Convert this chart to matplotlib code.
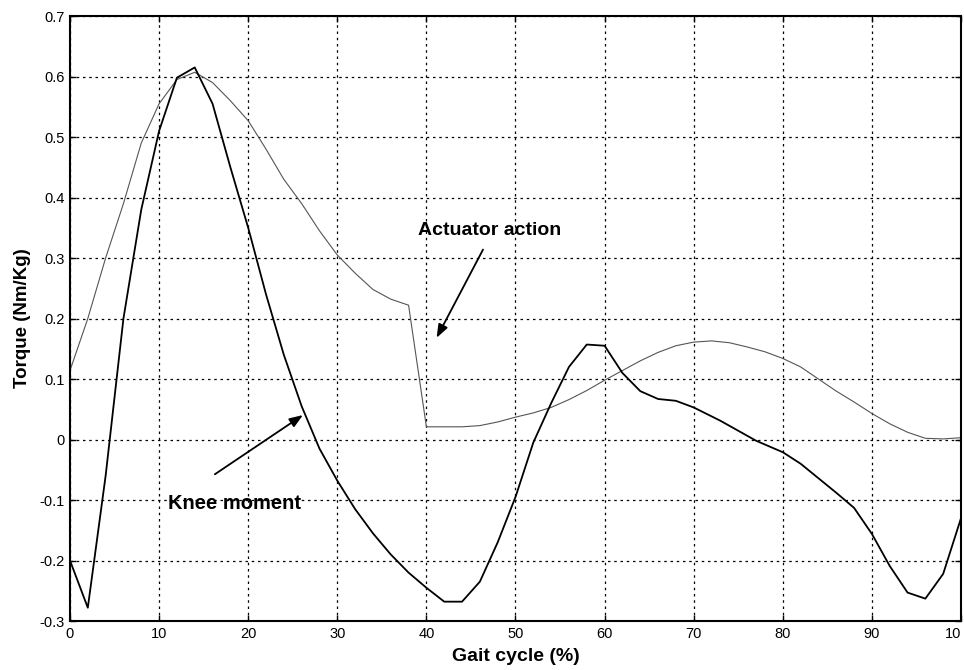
import numpy as np
import matplotlib
matplotlib.use('Agg')
from matplotlib import pyplot as plt

plt.rcParams['font.family'] = ['Liberation Sans', 'DejaVu Sans']

# knee moment (thick black)
knee_x = [0, 2, 4, 6, 8, 10, 12, 14, 16, 18, 20, 22, 24, 26, 28, 30, 32, 34, 36, 38, 40, 42, 44,
          46, 48, 50, 52, 54, 56, 58, 60, 62, 64, 66, 68, 70, 73, 77, 80, 82, 86, 88, 90, 92, 94, 96, 98, 100]
knee_y = [-0.20, -0.278, -0.06, 0.20, 0.38, 0.51, 0.598, 0.615, 0.555, 0.45, 0.35, 0.24, 0.14, 0.055, -0.015, -0.068,
          -0.115, -0.155, -0.19, -0.22, -0.245, -0.268, -0.268, -0.235, -0.17, -0.095, -0.005, 0.06, 0.12, 0.157,
          0.155, 0.11, 0.08, 0.067, 0.064, 0.053, 0.031, -0.002, -0.021, -0.04, -0.088, -0.113, -0.156, -0.209,
          -0.253, -0.263, -0.222, -0.13]

# actuator action (thin grey)
act_x = [0, 2, 4, 6, 8, 10, 12, 14, 16, 18, 20, 22, 24, 26, 28, 30, 32, 34, 36, 38, 40, 42, 44,
         46, 48, 50, 52, 54, 56, 58, 60, 62, 64, 66, 68, 70, 72, 74, 76, 78, 80, 82, 84, 86, 88, 90, 92, 94, 96, 98, 100]
act_y = [0.114, 0.20, 0.30, 0.39, 0.49, 0.555, 0.595, 0.607, 0.59, 0.56, 0.527, 0.48, 0.43, 0.39, 0.345, 0.305, 0.275,
         0.248, 0.232, 0.222, 0.021, 0.021, 0.021, 0.023, 0.029, 0.037, 0.044, 0.053, 0.066, 0.081, 0.098, 0.114,
         0.13, 0.144, 0.155, 0.161, 0.163, 0.16, 0.153, 0.145, 0.134, 0.12, 0.1, 0.08, 0.062, 0.043, 0.026, 0.012,
         0.002, 0.001, 0.003]

xticks = np.arange(0, 101, 10)
xticklabels = ['0', '10', '20', '30', '40', '50', '60', '70', '80', '90', '10']
yticks = np.round(np.arange(-0.3, 0.71, 0.1), 1)
yticklabels = ['-0.3', '-0.2', '-0.1', '0', '0.1', '0.2', '0.3', '0.4', '0.5', '0.6', '0.7']

fig = plt.figure(figsize=(9.64, 6.70), dpi=100)
ax = fig.add_axes([0.0726, 0.0731, 0.9243, 0.9030])

ax.plot(act_x, act_y, color='#555555', linewidth=0.8)
ax.plot(knee_x, knee_y, color='black', linewidth=1.3)

ax.set_xlim(0, 100)
ax.set_ylim(-0.3, 0.7)
ax.set_xticks(xticks)
ax.set_xticklabels(xticklabels)
ax.set_yticks(yticks)
ax.set_yticklabels(yticklabels)
ax.tick_params(direction='in', length=4, width=1, top=True, right=True, labelsize=10.5, pad=4)
ax.get_xticklabels()[-1].set_horizontalalignment('right')
ax.grid(True, color='black', linestyle=(0, (2, 3)), linewidth=0.9)
for sp in ax.spines.values():
    sp.set_linewidth(1.5)

ax.set_xlabel('Gait cycle (%)', fontsize=14, fontweight='bold', labelpad=5)
ax.set_ylabel('Torque (Nm/Kg)', fontsize=13.5, fontweight='bold', labelpad=6)

ax.annotate('', xy=(41.0, 0.164), xytext=(46.5, 0.318),
            arrowprops=dict(arrowstyle='-|>,head_length=0.8,head_width=0.3', color='black', lw=1.3))
ax.text(39.1, 0.346, 'Actuator action', fontsize=14, fontweight='bold', ha='left', va='center')
ax.annotate('', xy=(26.4, 0.043), xytext=(16.0, -0.06),
            arrowprops=dict(arrowstyle='-|>,head_length=0.8,head_width=0.3', color='black', lw=1.3))
ax.text(11.0, -0.106, 'Knee moment', fontsize=14.5, fontweight='bold', ha='left', va='center')

fig.savefig('out.png', dpi=100)
